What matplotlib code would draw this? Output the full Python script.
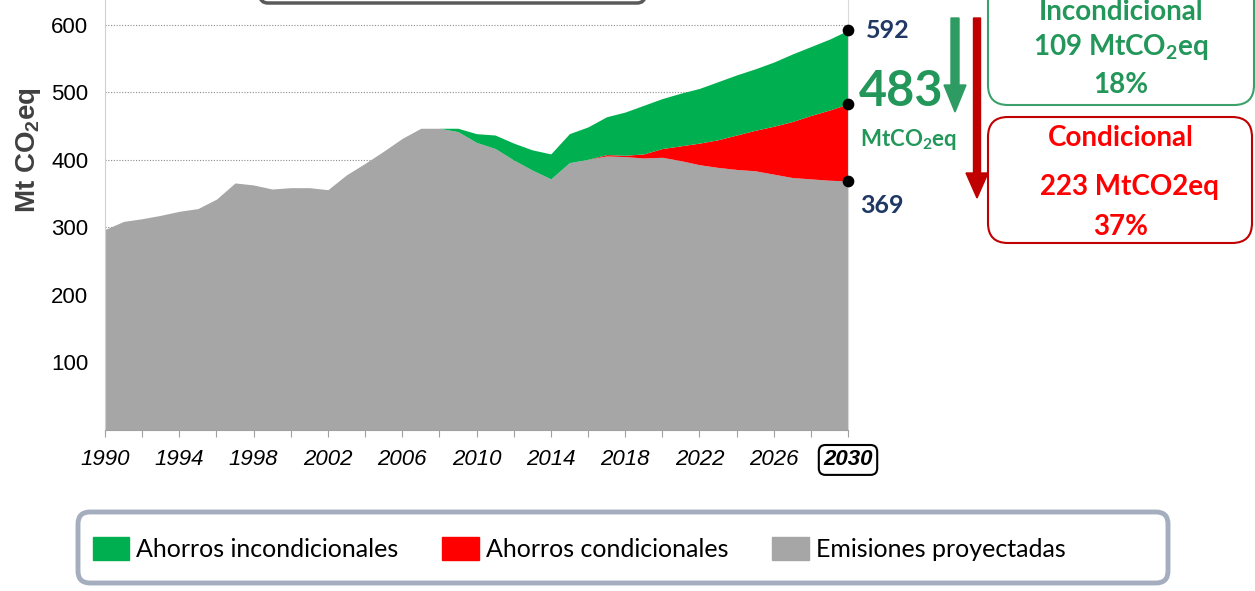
import matplotlib
matplotlib.use("Agg")
import matplotlib.pyplot as plt
from matplotlib.patches import FancyBboxPatch, FancyArrow, Patch

plt.rcParams['mathtext.default'] = 'regular'

# data (Mt CO2eq)
years = list(range(1990, 2031))
emisiones = [297, 309, 313, 318, 324, 328, 342, 366, 363, 357,
             359, 359, 356, 378, 395, 413, 432, 447, 447, 442,
             426, 417, 400, 385, 372, 396, 401, 406, 405, 403,
             404, 399, 393, 389, 386, 384, 379, 374, 372, 370, 369]
tope_condicional = [297, 309, 313, 318, 324, 328, 342, 366, 363, 357,
                    359, 359, 356, 378, 395, 413, 432, 447, 447, 442,
                    426, 417, 400, 385, 372, 396, 401, 408, 407, 409,
                    417, 421, 425, 430, 437, 444, 450, 457, 466, 474, 483]
tope_incondicional = [297, 309, 313, 318, 324, 328, 342, 366, 363, 357,
                      359, 359, 356, 378, 395, 413, 432, 447, 447, 447,
                      439, 437, 425, 415, 409, 439, 449, 464, 471, 481,
                      491, 499, 506, 516, 526, 535, 545, 557, 568, 579, 592]
yticks = [100, 200, 300, 400, 500, 600]
xlabels = list(range(1990, 2031, 4))

GREEN = '#00B050'
RED = '#FF0000'
GRAY = '#A6A6A6'
TXT_GREEN = '#23975A'
NAVY = '#1F3864'
DARK_RED = '#C00000'

W, H = 1255, 591
fig = plt.figure(figsize=(W / 100, H / 100), dpi=100)
ax = fig.add_axes([105 / W, 161 / H, 743 / W, 430 / H])

ax.fill_between(years, 0, emisiones, color=GRAY, lw=0, zorder=2)
ax.fill_between(years, emisiones, tope_condicional, color=RED, lw=0, zorder=2)
ax.fill_between(years, tope_condicional, tope_incondicional, color=GREEN, lw=0, zorder=2)

ax.set_xlim(1990, 2030)
ax.set_ylim(0, 637)
ax.set_yticks(yticks)
ax.yaxis.grid(True, linestyle=(0, (1, 1.5)), color='#8C8C8C', lw=0.8)
ax.set_axisbelow(True)

narrow = ['Liberation Sans Narrow', 'Liberation Sans', 'DejaVu Sans']
ax.set_yticklabels([str(v) for v in yticks], family=narrow, fontsize=16)
ax.tick_params(axis='y', length=0, pad=12)

ax.set_xticks(list(range(1990, 2031, 2)))
ax.set_xticklabels([str(y) if y in xlabels else '' for y in range(1990, 2031, 2)],
                   family=narrow, fontsize=16, style='italic')
ax.tick_params(axis='x', length=5, color='#A0A0A0', pad=9)
last = [t for t in ax.get_xticklabels() if t.get_text() == '2030'][0]
last.set_fontweight('bold')
last.set_bbox(dict(boxstyle='round,pad=0.2,rounding_size=0.3', fc='white', ec='black', lw=1.5))

ax.spines['top'].set_visible(False)
ax.spines['left'].set_color('#D0D0D0')
ax.spines['right'].set_color('#D9D9D9')
ax.spines['bottom'].set_color('#A0A0A0')

ax.set_ylabel('Mt CO$_2$eq', family=['Liberation Sans', 'DejaVu Sans'],
              fontsize=20, fontweight='bold', color='#404040')
ax.yaxis.set_label_coords(-0.083, 0.651)

# end points in 2030
ends = [tope_incondicional[-1], tope_condicional[-1], emisiones[-1]]
ax.scatter([2030] * 3, ends, s=55, color='black', zorder=5, clip_on=False)

bold = dict(family=['Lato', 'DejaVu Sans'], fontweight='bold')
ax.annotate(str(ends[0]), xy=(2030, ends[0]), xytext=(13, 0), textcoords='offset points',
            va='center', ha='left', fontsize=18, color=NAVY, **bold)
ax.annotate(str(ends[2]), xy=(2030, ends[2]), xytext=(9, -18), textcoords='offset points',
            va='center', ha='left', fontsize=18, color=NAVY, **bold)
ax.annotate(str(ends[1]), xy=(2030, ends[1]), xytext=(8, 9), textcoords='offset points',
            va='center', ha='left', fontsize=35, color=TXT_GREEN, **bold)
fig.text(860 / W, 1 - 140 / H, 'MtCO$_2$eq', va='center', ha='left',
         fontsize=16, color=TXT_GREEN, **bold)

# arrows (pixel positions, via inches)
tr = fig.dpi_scale_trans
fig.patches.append(FancyArrow(9.55, (H - 18) / 100, 0, -0.94, width=0.08, head_width=0.22,
                              head_length=0.27, length_includes_head=True,
                              color='#2E9B62', transform=tr, figure=fig))
fig.patches.append(FancyArrow(9.77, (H - 18) / 100, 0, -1.80, width=0.07, head_width=0.22,
                              head_length=0.25, length_includes_head=True,
                              color=DARK_RED, transform=tr, figure=fig))

# boxes on the right
fig.patches.append(FancyBboxPatch((9.88, (H - 105) / 100), 2.66, 1.6,
                                  boxstyle='round,pad=0,rounding_size=0.2',
                                  fc='white', ec='#3BA06A', lw=1.5, transform=tr, figure=fig))
fig.patches.append(FancyBboxPatch((9.88, (H - 243) / 100), 2.64, 1.26,
                                  boxstyle='round,pad=0,rounding_size=0.2',
                                  fc='white', ec=DARK_RED, lw=1.5, transform=tr, figure=fig))
# edge of the cut box at the top
fig.patches.append(FancyBboxPatch((2.60, (H - 3) / 100), 3.85, 0.5,
                                  boxstyle='round,pad=0,rounding_size=0.08',
                                  fc='white', ec='#595959', lw=2.5, transform=tr, figure=fig))

cx = 1121 / W
fig.text(cx, 1 - 12 / H, 'Incondicional', ha='center', va='center', fontsize=20, color=TXT_GREEN, **bold)
fig.text(cx, 1 - 47 / H, '109 MtCO$_2$eq', ha='center', va='center', fontsize=20, color=TXT_GREEN, **bold)
fig.text(cx, 1 - 85 / H, '18%', ha='center', va='center', fontsize=20, color=TXT_GREEN, **bold)
fig.text(cx, 1 - 138 / H, 'Condicional', ha='center', va='center', fontsize=20, color=RED, **bold)
fig.text(1129 / W, 1 - 187 / H, '223 MtCO2eq', ha='center', va='center', fontsize=20, color=RED, **bold)
fig.text(cx, 1 - 227 / H, '37%', ha='center', va='center', fontsize=20, color=RED, **bold)

# legend
fig.patches.append(FancyBboxPatch((0.78, 0.08), 10.9, 0.71,
                                  boxstyle='round,pad=0,rounding_size=0.12',
                                  fc='white', ec='#A4AEBE', lw=3.5, transform=tr, figure=fig))
handles = [Patch(color=GREEN, label='Ahorros incondicionales'),
           Patch(color=RED, label='Ahorros condicionales'),
           Patch(color=GRAY, label='Emisiones proyectadas')]
fig.legend(handles=handles, loc='center left', bbox_to_anchor=(80 / W, 1 - 549 / H),
           ncol=3, frameon=False, prop={'family': ['Lato', 'DejaVu Sans'], 'size': 18},
           handlelength=1.45, handleheight=1.0, handletextpad=0.3, columnspacing=1.75,
           borderpad=0)

fig.savefig('out.png', dpi=100)
